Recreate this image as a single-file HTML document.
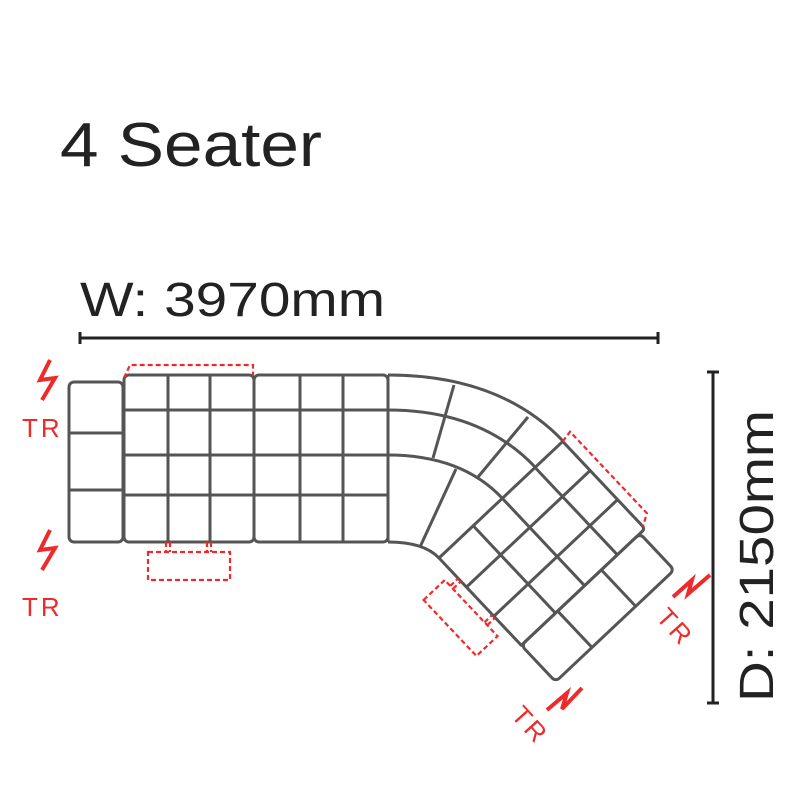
<!DOCTYPE html>
<html><head><style>
html,body{margin:0;padding:0;background:#fff;}
svg{display:block;}
</style></head><body>
<svg width="800" height="800" viewBox="0 0 800 800" xmlns="http://www.w3.org/2000/svg" font-family="Liberation Sans, sans-serif">
<text x="60" y="166" font-size="62" fill="#222" textLength="262" lengthAdjust="spacingAndGlyphs">4 Seater</text>
<text x="80" y="316" font-size="48" fill="#222" textLength="305" lengthAdjust="spacingAndGlyphs">W: 3970mm</text>
<g stroke="#222" stroke-width="3">
<line x1="80" y1="338" x2="658" y2="338"/><line x1="80" y1="332" x2="80" y2="344"/><line x1="658" y1="332" x2="658" y2="344"/>
<line x1="713" y1="372" x2="713" y2="703"/><line x1="707" y1="372" x2="719" y2="372"/><line x1="707" y1="703" x2="719" y2="703"/>
</g>
<text transform="translate(773,702) rotate(-90)" font-size="48" fill="#222" textLength="292" lengthAdjust="spacingAndGlyphs">D: 2150mm</text>

<g fill="none" stroke="#555" stroke-width="3" stroke-linejoin="round">
<rect x="69" y="382" width="54" height="160" rx="5"/>
<line x1="69" y1="433" x2="123" y2="433"/><line x1="69" y1="490" x2="123" y2="490"/>
<rect x="124" y="375" width="130" height="167" rx="5"/>
<line x1="168" y1="375" x2="168" y2="542"/><line x1="210" y1="375" x2="210" y2="542"/>
<line x1="124" y1="410" x2="254" y2="410"/><line x1="124" y1="455" x2="254" y2="455"/><line x1="124" y1="495" x2="254" y2="495"/>
<rect x="254" y="375" width="134" height="167" rx="5"/>
<line x1="300" y1="375" x2="300" y2="542"/><line x1="343" y1="375" x2="343" y2="542"/>
<line x1="254" y1="410" x2="388" y2="410"/><line x1="254" y1="455" x2="388" y2="455"/><line x1="254" y1="495" x2="388" y2="495"/>
<line x1="388" y1="375" x2="388" y2="542"/>
<path d="M388,375 Q500,375 563,441"/>
<path d="M388,410 Q481,410 535,467"/>
<path d="M388,455 Q461.5,455 502,498"/>
<path d="M388,542 Q424,542 439,558"/>
<line x1="454" y1="385" x2="433" y2="458"/>
<line x1="456" y1="469" x2="420" y2="547"/>
<line x1="528" y1="417" x2="478" y2="477"/>
<g transform="translate(439,558) rotate(-43.3)">
<path d="M0,0 L170,0 L170,116 Q170,120 166,120 L0,120 Z"/>
<line x1="47" y1="0" x2="47" y2="120"/><line x1="87" y1="0" x2="87" y2="120"/><line x1="132" y1="0" x2="132" y2="120"/>
<line x1="0" y1="40" x2="170" y2="40"/><line x1="0" y1="80" x2="170" y2="80"/>
<rect x="0" y="120" width="163" height="50" rx="5"/>
<line x1="50" y1="120" x2="50" y2="170"/><line x1="110" y1="120" x2="110" y2="170"/>
</g>
</g>

<g fill="none" stroke="#ee2a2a" stroke-width="2.2" stroke-dasharray="5,3">
<polyline points="124,378 130,365 253,365 253,376"/>
<rect x="148" y="552" width="82" height="28"/>
<path d="M166,542V552M170,542V552M207,542V552M211,542V552"/>
<g transform="translate(439,558) rotate(-43.3)">
<polyline points="170,0 182,-2 182,110 170,117"/>
<rect x="-40" y="20" width="29" height="77"/>
<path d="M-11,28H0M-11,32H0M-11,78H0M-11,82H0"/>
</g>
</g>

<g fill="none" stroke="#ee2a2a" stroke-width="4">
<polyline points="50,360 40,380 55,378 42,400"/>
<polyline points="50,530 40,550 55,548 42,570"/>
<polyline points="673,597 692,580 688,594 710,575"/>
<polyline points="547,710 567,693 562,709 582,688"/>
</g>
<g fill="#ee2a2a" font-size="26">
<text x="22" y="437" letter-spacing="3">TR</text>
<text x="22" y="616" letter-spacing="3">TR</text>
<text transform="translate(655,618) rotate(48)" letter-spacing="3">TR</text>
<text transform="translate(510,716) rotate(48)" letter-spacing="3">TR</text>
</g>
</svg>
</body></html>
